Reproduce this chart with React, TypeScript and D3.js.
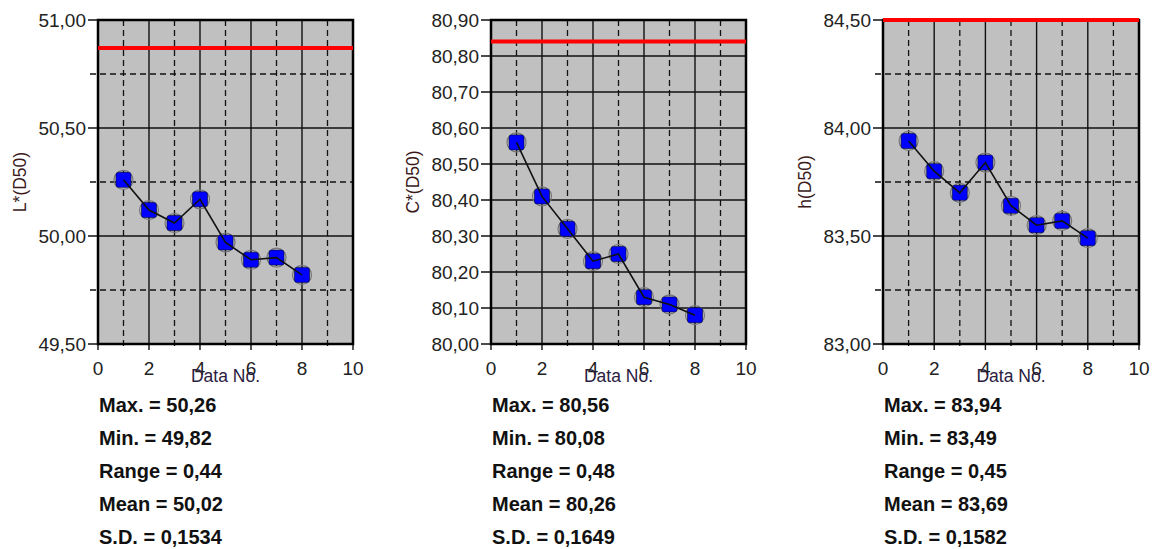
import React from "react";
import * as d3 from "d3";

const dataNo = [1, 2, 3, 4, 5, 6, 7, 8];
const lValues = [50.26, 50.12, 50.06, 50.17, 49.97, 49.89, 49.9, 49.82];
const cValues = [80.56, 80.41, 80.32, 80.23, 80.25, 80.13, 80.11, 80.08];
const hValues = [83.94, 83.8, 83.7, 83.84, 83.64, 83.55, 83.57, 83.49];
const xTicks = [0, 2, 4, 6, 8, 10];
const lStats = ["Max. = 50,26", "Min. = 49,82", "Range = 0,44", "Mean = 50,02", "S.D. = 0,1534"];
const cStats = ["Max. = 80,56", "Min. = 80,08", "Range = 0,48", "Mean = 80,26", "S.D. = 0,1649"];
const hStats = ["Max. = 83,94", "Min. = 83,49", "Range = 0,45", "Mean = 83,69", "S.D. = 0,1582"];

const panels = [
  { label: "L*(D50)", values: lValues, stats: lStats, domain: [49.5, 51], major: 0.5, minor: true, limit: 50.87, left: 98, right: 353 },
  { label: "C*(D50)", values: cValues, stats: cStats, domain: [80, 80.9], major: 0.1, minor: false, limit: 80.84, left: 491, right: 746 },
  { label: "h(D50)", values: hValues, stats: hStats, domain: [83, 84.5], major: 0.5, minor: true, limit: 84.5, left: 883, right: 1139 },
];

const TOP = 20;
const BOTTOM = 344;
const fmt = (v: number) => d3.format(".2f")(v).replace(".", ",");
const FONT = "Liberation Sans, Arial, sans-serif";

function Panel({ p }: { p: typeof panels[number] }) {
  const x = d3.scaleLinear().domain([0, 10]).range([p.left, p.right]);
  const y = d3.scaleLinear().domain(p.domain).range([BOTTOM, TOP]);
  const n = Math.round((p.domain[1] - p.domain[0]) / p.major);
  const majors = d3.range(n + 1).map((i) => p.domain[0] + i * p.major);
  const minors = p.minor ? d3.range(n).map((i) => p.domain[0] + (i + 0.5) * p.major) : [];
  const xs = d3.range(0, 11);
  const line = d3
    .line<number>()
    .x((_, i) => x(dataNo[i]))
    .y((d) => y(d));
  const cx = (p.left + p.right) / 2;
  return (
    <g>
      <rect x={p.left} y={TOP} width={p.right - p.left} height={BOTTOM - TOP} fill="#c0c0c0" />
      {xs.map((v) => (
        <line
          key={"vx" + v}
          x1={x(v)}
          x2={x(v)}
          y1={TOP}
          y2={BOTTOM + 6}
          stroke="#111"
          strokeWidth={v % 2 === 0 ? 1.4 : 1.3}
          strokeDasharray={v % 2 === 0 ? undefined : "6,4"}
        />
      ))}
      {majors.map((v) => (
        <line key={"hy" + v} x1={p.left - 10} x2={p.right} y1={y(v)} y2={y(v)} stroke="#111" strokeWidth={1.4} />
      ))}
      {minors.map((v) => (
        <line
          key={"my" + v}
          x1={p.left - 8}
          x2={p.right}
          y1={y(v)}
          y2={y(v)}
          stroke="#111"
          strokeWidth={1.3}
          strokeDasharray="6,4"
        />
      ))}
      <rect x={p.left} y={TOP} width={p.right - p.left} height={BOTTOM - TOP} fill="none" stroke="#000" strokeWidth={2.5} />
      <line x1={p.left} x2={p.right} y1={y(p.limit)} y2={y(p.limit)} stroke="#ff0000" strokeWidth={4} />
      {p.values.map((v, i) => (
        <g key={"m" + i}>
          <circle cx={x(dataNo[i])} cy={y(v)} r={9.5} fill="none" stroke="#777" strokeWidth={1.2} />
          <rect x={x(dataNo[i]) - 7.5} y={y(v) - 7.5} width={15} height={15} rx={2.5} fill="#0000ff" stroke="#000033" strokeWidth={0.6} />
        </g>
      ))}
      <path d={line(p.values) || ""} fill="none" stroke="#111" strokeWidth={1.6} />
      {majors.map((v) => (
        <text
          key={"yl" + v}
          x={p.left - 12}
          y={y(v)}
          dy="0.36em"
          textAnchor="end"
          fontSize={19}
          fontFamily={FONT}
          fill="#222"
        >
          {fmt(v)}
        </text>
      ))}
      {xTicks.map((v) => (
        <text key={"xl" + v} x={x(v)} y={368} dy="0.36em" textAnchor="middle" fontSize={19} fontFamily={FONT} fill="#222">
          {v}
        </text>
      ))}
      <text x={cx} y={376} dy="0.36em" textAnchor="middle" fontSize={17.5} fontFamily={FONT} fill="#2a2040">
        Data No.
      </text>
      <text
        transform={`translate(${p.left - 72},${(TOP + BOTTOM) / 2}) rotate(-90)`}
        textAnchor="middle"
        fontSize={17.5}
        fontFamily={FONT}
        fill="#3a1a1a"
      >
        {p.label}
      </text>
      {p.stats.map((s, i) => (
        <text key={"s" + i} x={p.left + 1} y={412 + i * 33} fontSize={20} fontWeight="bold" fontFamily={FONT} fill="#111">
          {s}
        </text>
      ))}
    </g>
  );
}

export default function App() {
  return (
    <svg
      width={1154}
      height={549}
      style={{ position: "absolute", left: 0, top: 0, background: "#fff" }}
    >
      {panels.map((p, i) => (
        <Panel key={i} p={p} />
      ))}
    </svg>
  );
}
